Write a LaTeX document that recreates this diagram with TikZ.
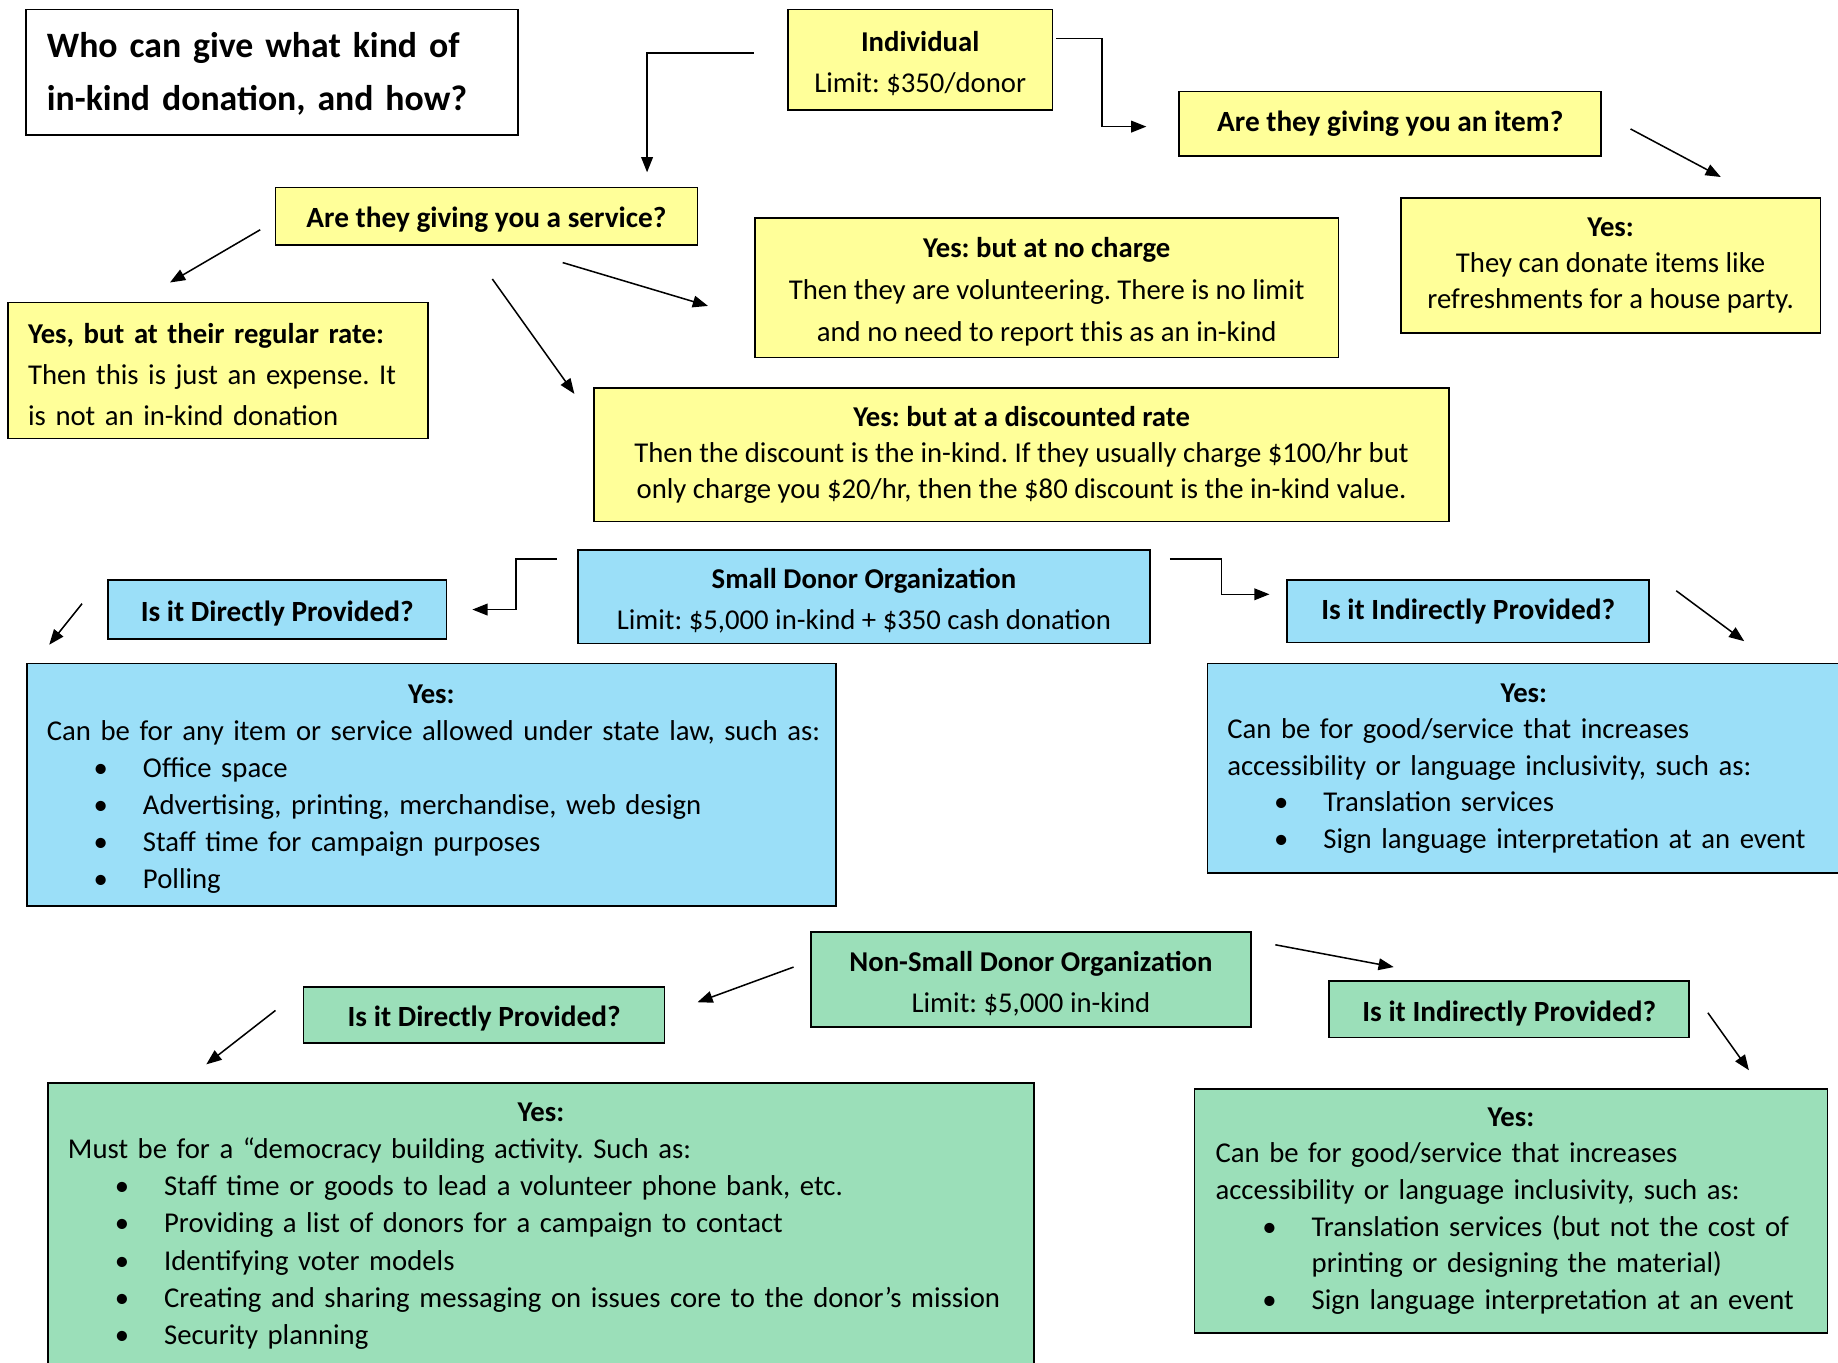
\documentclass[tikz,border=0pt]{standalone}
\usepackage{fontspec}
\setmainfont{Carlito}
\usetikzlibrary{arrows.meta}
\definecolor{ylw}{RGB}{255,255,153}
\definecolor{blu}{RGB}{155,223,248}
\definecolor{grn}{RGB}{155,223,185}
\newcommand{\bul}[1]{\hspace*{46pt}\makebox[0pt]{\textbullet}\hspace*{36pt}#1}
\newcommand{\midline}[1]{\makebox[\hsize]{\textbf{#1}}}
\newcommand{\topstrut}{\rule{0pt}{24pt}}
\frenchspacing
\begin{document}
\begin{tikzpicture}[x=1pt,y=-1pt,
  box/.style={draw=black, line width=1.4pt, inner sep=0pt, outer sep=0pt},
  ybox/.style={box, fill=ylw},
  bbox/.style={box, fill=blu},
  gbox/.style={box, fill=grn},
  body/.style={font=\fontsize{24.5}{#1}\selectfont},
  qfont/.style={font=\fontsize{25}{28}\selectfont\bfseries},
  arr/.style={line width=1.3pt, -{Triangle[length=13pt,width=10pt]}}
]
\fill[white] (0,0) rectangle (1568,1162);
\useasboundingbox (0,0) rectangle (1568,1162);

% Title
\node[box, fill=white, minimum width=420pt, minimum height=107pt, text width=384pt, align=left,
  font=\fontsize{30.5}{45}\selectfont\bfseries] (title) at (232,61.5)
  {\topstrut Who can give what kind of\\in-kind donation, and how?};

% Individual branch
\node[ybox, minimum width=226pt, minimum height=86pt, align=center, body=35] (indiv) at (785,51)
  {\topstrut\textbf{Individual}\\Limit: \$350/donor};
\node[ybox, minimum width=360pt, minimum height=55pt, qfont] (item) at (1186,105.5)
  {Are they giving you an item?};
\node[ybox, minimum width=358pt, minimum height=115pt, align=center, body=31] (itemyes) at (1374,226.5)
  {\textbf{Yes:}\\They can donate items like\\refreshments for a house party.};
\node[ybox, minimum width=360pt, minimum height=49pt, qfont] (service) at (415,184.5)
  {\topstrut Are they giving you a service?};
\node[ybox, minimum width=498pt, minimum height=119pt, align=center, body=35.5] (nocharge) at (893,245.5)
  {\topstrut\textbf{Yes: but at no charge}\\Then they are volunteering. There is no limit\\and no need to report this as an in-kind};
\node[ybox, minimum width=358pt, minimum height=116pt, text width=324pt, align=left, body=35] (regular) at (186,316)
  {\topstrut\textbf{Yes, but at their regular rate:}\\Then this is just an expense. It\\is not an in-kind donation};
\node[ybox, minimum width=729pt, minimum height=114pt, align=center, body=31] (discount) at (871.5,388)
  {\textbf{Yes: but at a discounted rate}\\Then the discount is the in-kind. If they usually charge \$100/hr but\\only charge you \$20/hr, then the \$80 discount is the in-kind value.};

% Small donor organization branch
\node[bbox, minimum width=488pt, minimum height=80pt, align=center, body=35] (small) at (737,509)
  {\topstrut\textbf{Small Donor Organization}\\Limit: \$5,000 in-kind + \$350 cash donation};
\node[bbox, minimum width=289pt, minimum height=50pt, qfont] (sdir) at (236.5,520)
  {\topstrut Is it Directly Provided?};
\node[bbox, minimum width=309pt, minimum height=53pt, qfont] (sind) at (1252.5,521.5)
  {Is it Indirectly Provided?};
\node[bbox, minimum width=690pt, minimum height=207pt, text width=656pt, align=left, body=31.6] (sdyes) at (368,669.5)
  {\topstrut\midline{Yes:}\\\mbox{Can be for any item or service allowed under state law, such as:}\\\bul{Office space}\\\bul{Advertising, printing, merchandise, web design}\\\bul{Staff time for campaign purposes}\\\bul{Polling}};
\node[bbox, minimum width=540pt, minimum height=179pt, text width=506pt, align=left, body=31.2] (siyes) at (1300,655.5)
  {\midline{Yes:}\\Can be for good/service that increases\\accessibility or language inclusivity, such as:\\\bul{Translation services}\\\bul{Sign language interpretation at an event}};

% Non-small donor organization branch
\node[gbox, minimum width=375pt, minimum height=81pt, align=center, body=35] (ns) at (879.5,835.5)
  {\topstrut\textbf{Non-Small Donor Organization}\\Limit: \$5,000 in-kind};
\node[gbox, minimum width=308pt, minimum height=48pt, qfont] (ndir) at (413,866)
  {\topstrut Is it Directly Provided?};
\node[gbox, minimum width=307pt, minimum height=48pt, qfont] (nind) at (1287.5,861)
  {\topstrut Is it Indirectly Provided?};
\node[gbox, minimum width=841pt, minimum height=244pt, text width=807pt, align=left, body=31.7] (ndyes) at (461.5,1046)
  {\midline{Yes:}\\Must be for a “democracy building activity. Such as:\\\bul{Staff time or goods to lead a volunteer phone bank, etc.}\\\bul{Providing a list of donors for a campaign to contact}\\\bul{Identifying voter models}\\\bul{\mbox{Creating and sharing messaging on issues core to the donor’s mission}}\\\bul{Security planning}};
\node[gbox, minimum width=540pt, minimum height=208pt, text width=504pt, align=left, body=31.2] (niyes) at (1289,1033)
  {\midline{Yes:}\\Can be for good/service that increases\\accessibility or language inclusivity, such as:\\\bul{Translation services (but not the cost of}\\\hspace*{82pt}printing or designing the material)\\\bul{Sign language interpretation at an event}};

% Connector end points
\coordinate (c1a) at (643,45);   \coordinate (c1b) at (552,147);
\coordinate (c2a) at (901,33);   \coordinate (c2b) at (978,108);
\coordinate (c3a) at (1391,110); \coordinate (c3b) at (1468,151);
\coordinate (c4a) at (222,196);  \coordinate (c4b) at (145,241);
\coordinate (c5a) at (480,224);  \coordinate (c5b) at (604,261);
\coordinate (c6a) at (420,238);  \coordinate (c6b) at (490,336);
\coordinate (c7a) at (475,477);  \coordinate (c7b) at (403,520);
\coordinate (c8a) at (998,477);  \coordinate (c8b) at (1083,507);
\coordinate (c9a) at (70,515);   \coordinate (c9b) at (42,550);
\coordinate (c10a) at (1430,504); \coordinate (c10b) at (1488,547);
\coordinate (c11a) at (677,825); \coordinate (c11b) at (595,855);
\coordinate (c12a) at (1088,806); \coordinate (c12b) at (1189,825);
\coordinate (c13a) at (235,862); \coordinate (c13b) at (176,908);
\coordinate (c14a) at (1457,864); \coordinate (c14b) at (1492,913);

% Connectors
\draw[arr] (c1a) -| (c1b);
\draw[arr] (c2a) -- ++(39,0) |- (c2b);
\draw[arr] (c3a) -- (c3b);
\draw[arr] (c4a) -- (c4b);
\draw[arr] (c5a) -- (c5b);
\draw[arr] (c6a) -- (c6b);
\draw[arr] (c7a) -- ++(-35,0) |- (c7b);
\draw[arr] (c8a) -- ++(44,0) |- (c8b);
\draw[arr] (c9a) -- (c9b);
\draw[arr] (c10a) -- (c10b);
\draw[arr] (c11a) -- (c11b);
\draw[arr] (c12a) -- (c12b);
\draw[arr] (c13a) -- (c13b);
\draw[arr] (c14a) -- (c14b);
\end{tikzpicture}
\end{document}
